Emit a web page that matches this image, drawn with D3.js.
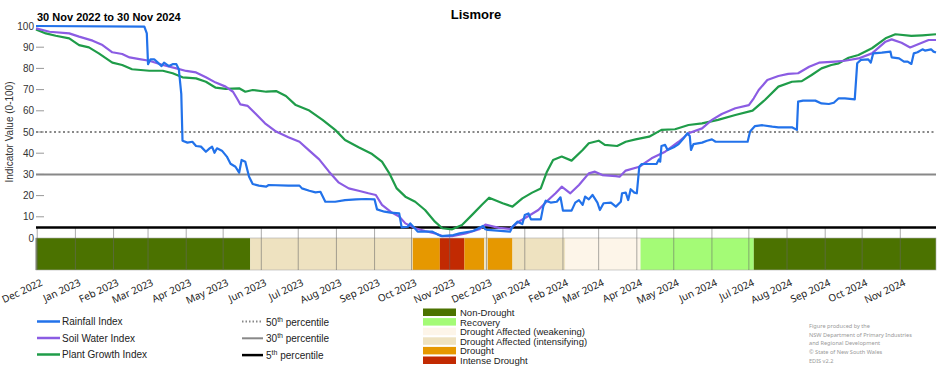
<!DOCTYPE html>
<html>
<head>
<meta charset="utf-8">
<script src="https://cdn.jsdelivr.net/npm/d3@7"></script>
<style>
  body { margin: 0; background: #fff; }
  svg { display: block; }
  text { font-family: "Liberation Sans", Arial, sans-serif; }
  .lbl { font-family: "Noto Sans", sans-serif; }
</style>
</head>
<body>
<div id="chart"></div>
<script>
// values, as [days since 30 Nov 2022, index value]
const startDate = new Date(2022, 10, 30);
const endDate = new Date(2024, 10, 30);

const rainfall = [[0,100],[88,99.7],[90,96.5],[91.5,82],[93,84.3],[96,84.3],[99,82.7],[102,81.1],[104,82.7],[108,81.1],
  [111.5,82],[114,82],[116,79.6],[118,68],[119.6,45.9],[123,45],[127,45.4],[130,43.4],[134,43.1],[138,40.7],[141,42.3],
  [143.4,43.1],[145,40.2],[147.5,42.3],[151.6,41.2],[155.6,38.4],[158,35],[162,33.6],[165,30.8],[167,36.8],[170.5,36],
  [173,29],[176,25.5],[181,24.7],[187,24.2],[189.4,25],[205.7,24.7],[214,24.7],[216.5,23.4],[222,22.3],[227,21.5],
  [231,21.8],[235,17.1],[243.6,17.1],[251.7,17.9],[260,18.2],[268,18.4],[275.5,18.2],[277,13.5],[283,12.4],[288,12],
  [295,11.6],[297,5],[302,5.3],[304.5,6.9],[307,5],[310,3],[322,3],[327,1.4],[329,0.9],[339,1.4],[344,2.2],[355,3.3],
  [363,5.7],[365,4.1],[367,3.8],[385.6,3],[387,5.3],[391,7.7],[395,6.6],[397.8,10.8],[400.5,11.6],[402,8.8],[410,8.8],
  [412,14.8],[414,17.6],[418,16.7],[423.5,17.1],[426,19.2],[428,12.9],[435,12.9],[438,16.7],[441.7,17.9],[444,15.6],
  [446.5,19.5],[449,18.2],[452,20.3],[456,16.7],[458.7,13.2],[461,16.4],[467,16.7],[471,14.8],[475,17.1],[476,21.1],
  [479,21.4],[481,17.9],[483,23],[486,21.4],[488.5,21.1],[490,33.6],[492.5,34.9],[504.7,34.9],[506,37.1],[507,36],
  [508.8,43.4],[511.5,43.9],[513.7,41.5],[518,42.8],[522,44.3],[526,47],[529,49.4],[531,48.1],[532,41.5],[534.5,44.3],
  [541,45],[545,45.9],[549,46.5],[552,45.4],[578,45.4],[580.5,50.2],[584.6,52.8],[590,53.2],[598,52.5],[603.5,52.2],
  [614,52.2],[618,51],[619.7,64.3],[623.8,64.8],[633,64.8],[638.7,63.5],[644,63.2],[648,63.8],[652,65.9],[657.6,65.9],
  [665,65.4],[667,82.4],[670,84],[676.5,84.3],[678,82.7],[680,87.1],[687,87.4],[694,87.9],[695.5,85.2],[701,84.7],
  [705,83.2],[708,83.2],[711,82.1],[713,87.1],[716,87.6],[720,89],[722,88.4],[727,89],[729,87.9],[731,87.5]];

const soilWater = [[0,98.9],[11,97.3],[27,96.5],[35,95],[46,93.1],[54,91],[62,87.6],[70,86.8],[76,85.2],[84,84.4],
  [92,83.6],[103,81.6],[114,80],[122,78.8],[130,78.1],[138,75.8],[146,73.3],[154,71.4],[160,69],[164,65.1],[166.4,63],
  [172,62.3],[178.6,58.8],[186.7,54.1],[195,50.2],[205.7,47.5],[214,45.4],[222,41.2],[230,37.1],[238,31.3],[246,26.1],
  [254,23.4],[262.5,22.3],[270.6,21.1],[276,20.3],[281.5,15.6],[289.6,12],[295,10.1],[300,6.9],[308.5,4.6],[316.6,3.3],
  [324.8,2.2],[330,0.9],[338,0.9],[349,2.2],[360,4.1],[365,6.3],[376,4.8],[385.6,4.3],[392,7.7],[400.5,10.4],
  [408.6,13.2],[416.7,17.9],[422,21.1],[427.6,24.2],[434,21.1],[441,25],[449,30.5],[454.6,31.3],[460,29.7],[471,29.2],
  [474,28.9],[479,31.8],[490,33.6],[500.7,37.6],[511.5,40.7],[522,45.4],[530,49.4],[541,51.7],[549,55.7],[557.5,58.5],
  [568,61.2],[579,62.7],[583,65.9],[587,69.8],[594,74.5],[603.5,76.4],[611.6,77.4],[619.7,77.7],[628,80.8],[636,82.7],
  [649.5,83.2],[657.6,83.6],[668.4,84.7],[679,87.1],[690,92.6],[695.5,93.7],[703.7,92.1],[710,89.9],[717,91.5],
  [725,93.4],[731,93.4]];

const plantGrowth = [[0,98.4],[8,96.5],[16,95.4],[27,94.2],[35,91],[43,89.9],[51,87.1],[62,82.7],[70,81.6],[78.5,79.6],
  [92,78.9],[103,78.9],[111,77.7],[119,75.8],[130,75.3],[138,73.7],[146,70.9],[154,70.3],[165,70.6],[170.5,69],
  [176,69.8],[187,69],[195,69.3],[203,67],[211,62.7],[222,60.1],[233,55.6],[243.6,51],[251.7,46.2],[262.5,42.8],
  [273,39.6],[281.5,36],[287,30.5],[293.6,23.4],[300,19.5],[308.5,17.1],[316.6,13.2],[324.8,7.7],[330,4.6],[338,4.1],
  [346.4,6.1],[354.5,10.8],[362.7,15.6],[368.6,19],[379,16.4],[387,14.8],[395,18.7],[403,21.4],[410,23.4],[415.4,31.3],
  [420.8,36.8],[427.6,38.4],[435.7,36.5],[444,41.5],[449,44.7],[457,45.9],[462.8,43.9],[472,43.4],[479,45.4],
  [487,46.5],[498,47.8],[508.8,51],[519.6,51.3],[530.4,53.3],[541,54.1],[554.8,55.7],[568,58],[582,60.1],[592.7,65.1],
  [603.5,71.4],[614,73.7],[622.5,74],[630.6,76.9],[638.7,80],[646.8,81.6],[652,82.4],[660,85],[668.4,86.3],[679,89.5],
  [690,94.2],[698,96.1],[711.8,95.3],[720,95.6],[731,96.1]];

// drought category bands: start day of each band and its category
const bandStarts = [0, 174, 306, 328, 348, 364, 367, 387, 430, 491, 583];
const bandCats = [0, 3, 4, 5, 4, 3, 4, 3, 2, 1, 0];

const categories = ["Non-Drought", "Recovery", "Drought Affected (weakening)",
  "Drought Affected (intensifying)", "Drought", "Intense Drought"];
const catColors = ["#4b7200", "#a4fb76", "#fdf5e9", "#eee2c0", "#e69800", "#c22a02"];

const seriesNames = ["Rainfall Index", "Soil Water Index", "Plant Growth Index"];
const seriesColors = ["#2272ea", "#8b5ce3", "#1f9c49"];
const yTicks = [0, 10, 20, 30, 40, 50, 60, 70, 80, 90, 100];
const percentiles = [50, 30, 5];

const W = 952, H = 370;
const plotLeft = 36, plotRight = 936, plotTop = 26, zeroY = 238, bandBottom = 270;

const svg = d3.select("#chart").append("svg")
    .attr("width", W)
    .attr("height", H);

const x = d3.scaleTime().domain([startDate, endDate]).range([plotLeft, plotRight]);
const y = d3.scaleLinear().domain([0, 100]).range([zeroY, plotTop]);
const toDate = d => d3.timeDay.offset(startDate, d);

// drought band
const bandEnds = bandStarts.slice(1).concat([731]);
svg.append("g").selectAll("rect")
    .data(bandStarts)
    .enter().append("rect")
    .attr("x", d => x(toDate(d)))
    .attr("y", zeroY)
    .attr("width", (d, i) => x(toDate(bandEnds[i])) - x(toDate(d)))
    .attr("height", bandBottom - zeroY)
    .attr("fill", (d, i) => catColors[bandCats[i]]);
svg.append("rect")
    .attr("x", plotLeft).attr("y", zeroY)
    .attr("width", plotRight - plotLeft).attr("height", bandBottom - zeroY)
    .attr("fill", "none").attr("stroke", "#aaa").attr("stroke-width", 0.6);

// month ticks
const months = d3.timeMonth.range(new Date(2022, 11, 1), new Date(2024, 11, 1));
svg.append("g").selectAll("line")
    .data(months)
    .enter().append("line")
    .attr("x1", d => x(d)).attr("x2", d => x(d))
    .attr("y1", y(5)).attr("y2", bandBottom)
    .attr("stroke", "#666").attr("stroke-opacity", 0.55).attr("stroke-width", 1);

svg.append("g").selectAll("text")
    .data(months)
    .enter().append("text")
    .attr("class", "lbl")
    .attr("transform", d => `translate(${x(d) + 6},${285}) rotate(-25)`)
    .attr("text-anchor", "end")
    .attr("font-size", "10px")
    .attr("fill", "#222")
    .text(d3.timeFormat("%b %Y"));

// y axis
const yAxis = svg.append("g");
yAxis.selectAll("text")
    .data(yTicks)
    .enter().append("text")
    .attr("x", 34).attr("y", d => y(d) + 3.5)
    .attr("text-anchor", "end")
    .attr("font-size", "10px")
    .attr("fill", "#333")
    .text(d => d);
yAxis.selectAll("line")
    .data(yTicks.filter(d => d > 5))
    .enter().append("line")
    .attr("x1", plotLeft).attr("x2", plotLeft + 8)
    .attr("y1", d => y(d)).attr("y2", d => y(d))
    .attr("stroke", "#999");
svg.append("line")
    .attr("x1", plotLeft).attr("x2", plotLeft)
    .attr("y1", zeroY).attr("y2", bandBottom)
    .attr("stroke", "#888");

svg.append("text")
    .attr("transform", `translate(13,${(plotTop + zeroY) / 2}) rotate(-90)`)
    .attr("text-anchor", "middle")
    .attr("font-size", "10px")
    .attr("fill", "#333")
    .text("Indicator Value (0-100)");

// percentile lines
const pctStyle = [
  {stroke: "#888", width: 2, dash: "2,2.5"},
  {stroke: "#888", width: 2, dash: null},
  {stroke: "#000", width: 2.5, dash: null}
];
svg.append("g").selectAll("line")
    .data(percentiles)
    .enter().append("line")
    .attr("x1", plotLeft).attr("x2", plotRight)
    .attr("y1", d => y(d)).attr("y2", d => y(d))
    .attr("stroke", (d, i) => pctStyle[i].stroke)
    .attr("stroke-width", (d, i) => pctStyle[i].width)
    .attr("stroke-dasharray", (d, i) => pctStyle[i].dash);

// index lines
const line = d3.line()
    .x(d => x(toDate(d[0])))
    .y(d => y(d[1]));

svg.append("g").selectAll("path")
    .data([plantGrowth, soilWater, rainfall])
    .enter().append("path")
    .attr("d", line)
    .attr("fill", "none")
    .attr("stroke", (d, i) => seriesColors[2 - i])
    .attr("stroke-width", 2.2)
    .attr("stroke-linejoin", "round");

// titles
svg.append("text")
    .attr("x", 476).attr("y", 19)
    .attr("text-anchor", "middle")
    .attr("font-size", "13px")
    .attr("font-weight", "bold")
    .text("Lismore");
svg.append("text")
    .attr("x", 37).attr("y", 21)
    .attr("font-size", "11px")
    .attr("font-weight", "bold")
    .text("30 Nov 2022 to 30 Nov 2024");

// series legend
const lg = svg.append("g").attr("class", "lbl");
seriesNames.forEach((name, i) => {
  const ly = 321.5 + i * 16.5;
  lg.append("line")
    .attr("x1", 37).attr("x2", 60)
    .attr("y1", ly).attr("y2", ly)
    .attr("stroke", seriesColors[i]).attr("stroke-width", 2.5);
  lg.append("text")
    .attr("x", 62).attr("y", ly + 3.5)
    .attr("font-size", "10px").attr("fill", "#222")
    .text(name);
});

// percentile legend
const pctLabels = ["50", "30", "5"];
percentiles.forEach((p, i) => {
  const ly = 321.5 + i * 16.8;
  lg.append("line")
    .attr("x1", 242).attr("x2", 263)
    .attr("y1", ly).attr("y2", ly)
    .attr("stroke", pctStyle[i].stroke)
    .attr("stroke-width", pctStyle[i].width)
    .attr("stroke-dasharray", i === 0 ? "1.5,2" : null);
  const t = lg.append("text")
    .attr("x", 266).attr("y", ly + 4)
    .attr("font-size", "10px").attr("fill", "#222");
  t.append("tspan").text(pctLabels[i]);
  t.append("tspan").attr("dy", -4).attr("font-size", "7px").text("th");
  t.append("tspan").attr("dy", 4).text(" percentile");
});

// drought category legend
categories.forEach((c, i) => {
  const ly = 308.5 + i * 9.6;
  lg.append("rect")
    .attr("x", 423).attr("y", ly)
    .attr("width", 33).attr("height", 7.5)
    .attr("fill", catColors[i]);
  lg.append("text")
    .attr("x", 460).attr("y", ly + 7.5)
    .attr("font-size", "9.5px").attr("fill", "#222")
    .text(c);
});

// credit
const credit = ["Figure produced by the", "NSW Department of Primary Industries",
  "and Regional Development", "\u00a9 State of New South Wales", "EDIS v2.2"];
svg.append("g").selectAll("text")
    .data(credit)
    .enter().append("text")
    .attr("class", "lbl")
    .attr("x", 809).attr("y", (d, i) => 328 + i * 8.7)
    .attr("font-size", "5.6px")
    .attr("fill", "#999")
    .text(d => d);
</script>
</body>
</html>
